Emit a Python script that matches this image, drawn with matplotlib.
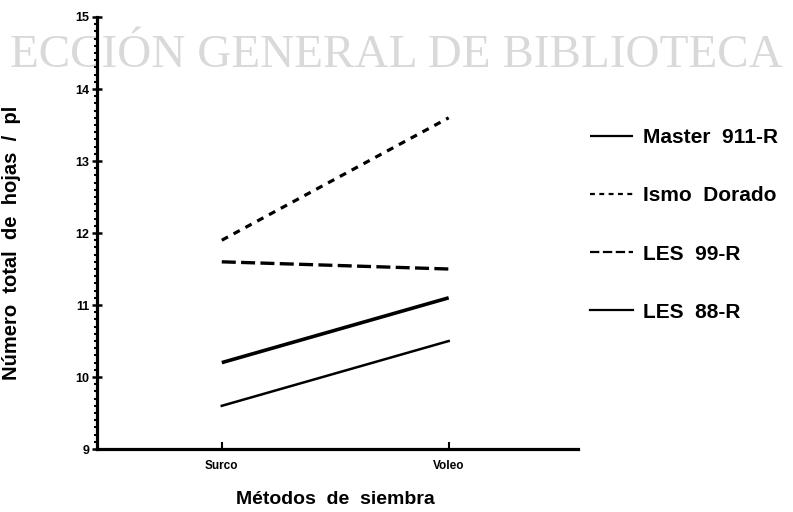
import matplotlib
matplotlib.use('Agg')
import matplotlib.pyplot as plt
from matplotlib.ticker import MultipleLocator

# Leaf count per plant by sowing method
metodos = ['Surco', 'Voleo']
master_911 = [10.2, 11.1]
ismo_dorado = [11.9, 13.6]
les_99 = [11.6, 11.5]
les_88 = [9.6, 10.5]

series_names = ['Master  911-R', 'Ismo  Dorado', 'LES  99-R', 'LES  88-R']
y_ticks = [9, 10, 11, 12, 13, 14, 15]

plt.rcParams['font.family'] = ['Liberation Sans', 'DejaVu Sans']

fig = plt.figure(figsize=(7.93, 5.12), dpi=100)
ax = fig.add_axes([0.1223, 0.123, 0.6066, 0.8438])
ax.set_zorder(1)
ax.patch.set_visible(False)

xpos = [1, 2]
ax.plot(xpos, master_911, color='black', lw=2.6, solid_capstyle='butt',
        label=series_names[0])
ax.plot(xpos, ismo_dorado, color='black', lw=2.3, dashes=(2.2, 2.0),
        label=series_names[1])
ax.plot(xpos, les_99, color='black', lw=2.4, dashes=(4.2, 1.6),
        label=series_names[2])
ax.plot(xpos, les_88, color='black', lw=1.8, label=series_names[3])

ax.set_xlim(0.45, 2.57)
ax.set_ylim(9, 15)

for side in ['top', 'right']:
    ax.spines[side].set_visible(False)
for side in ['left', 'bottom']:
    ax.spines[side].set_linewidth(2.3)

ax.set_xticks(xpos)
ax.set_xticklabels(metodos, fontsize=8.5, fontweight='heavy')
ax.tick_params(axis='x', direction='in', length=5, width=1.5, pad=8)

ax.set_yticks(y_ticks)
ax.set_yticklabels([str(t) for t in y_ticks], fontsize=9, fontweight='heavy')
ax.yaxis.set_minor_locator(MultipleLocator(0.1))
ax.tick_params(axis='y', which='major', direction='inout', length=7, width=1.8, pad=2)
ax.tick_params(axis='y', which='minor', direction='out', length=2.5, width=1.5)

ax.set_ylabel('Número  total  de  hojas  /  pl', fontsize=14.5, fontweight='bold')
ax.yaxis.set_label_coords(-0.158, 0.477)
ax.set_xlabel('Métodos  de  siembra', fontsize=14, fontweight='bold')
ax.xaxis.set_label_coords(0.495, -0.097)

leg = ax.legend(loc='upper left', bbox_to_anchor=(0.985, 0.786), frameon=False,
                handlelength=2.1, handletextpad=0.45,
                labelspacing=1.88, prop={'weight': 'bold', 'size': 15})
for line in leg.get_lines():
    line.set_linewidth(1.6)

# library stamp across the top
fig.text(0.5, 0.869, 'ECCIÓN GENERAL DE BIBLIOTECA', ha='center',
         va='baseline', fontsize=34, color='#d9d9d9',
         family='Liberation Serif', zorder=0)

fig.savefig('out.png', dpi=100)
